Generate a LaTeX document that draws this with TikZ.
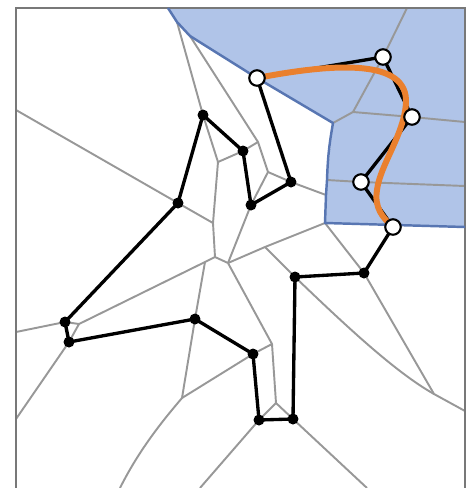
\documentclass[tikz,border=0pt]{standalone}
\usepackage{tikz}
\usetikzlibrary{calc}
\definecolor{cellCol}{RGB}{176,196,232}
\definecolor{rimCol}{RGB}{88,118,178}
\definecolor{edgeCol}{RGB}{152,152,152}
\definecolor{frameCol}{RGB}{120,120,120}
\definecolor{pathCol}{RGB}{234,128,46}
\tikzset{
  vor/.style={draw=edgeCol,line width=1.1pt},
  rim/.style={draw=rimCol,line width=1.4pt,line join=round},
  tour/.style={draw=black,line width=1.9pt,line join=round},
  fitline/.style={draw=pathCol,line width=3.4pt,line cap=round},
  dot/.style={circle,fill=black,inner sep=0pt,minimum size=2.2mm},
  hollow/.style={circle,draw=black,fill=white,line width=1.2pt,inner sep=0pt,minimum size=3.1mm},
}

\begin{document}
\begin{tikzpicture}[x=0.02cm,y=-0.02cm]
  \useasboundingbox (0,0) rectangle (474,488);
  % polygon vertices
  \coordinate (a) at (203,115); \coordinate (b) at (243,151);
  \coordinate (c) at (251,205); \coordinate (d) at (291,182);
  \coordinate (e) at (257,78);  \coordinate (f) at (383,57);
  \coordinate (g) at (412,117); \coordinate (h) at (361,182);
  \coordinate (i) at (393,227); \coordinate (j) at (364,273);
  \coordinate (k) at (295,277); \coordinate (l) at (293,419);
  \coordinate (m) at (259,420); \coordinate (n) at (253,354);
  \coordinate (o) at (195,319); \coordinate (p) at (69,342);
  \coordinate (q) at (65,322);  \coordinate (r) at (178,203);
  % voronoi vertices
  \coordinate (v1) at (177,22);  \coordinate (v2) at (190,36);
  \coordinate (v3) at (218,162); \coordinate (v4) at (258,142);
  \coordinate (v5) at (268,172); \coordinate (v6) at (213,223);
  \coordinate (v7) at (205,262); \coordinate (v8) at (215,257);
  \coordinate (v9) at (228,263); \coordinate (v10) at (326,195);
  \coordinate (v11) at (333,123); \coordinate (v12) at (353,112);
  \coordinate (v13) at (327,180); \coordinate (v14) at (325,223);
  \coordinate (v15) at (265,247); \coordinate (v16) at (272,344);
  \coordinate (v17) at (276,403); \coordinate (v18) at (182,398);
  \coordinate (v19) at (79,324);  \coordinate (v20) at (434,394);
  % cell
  \fill[cellCol] (168,8) -- (v1) -- (v2) -- (e) -- (v11) -- (v13) -- (v10)
    -- (v14) -- (465,227) -- (465,8) -- cycle;
  % voronoi edges
  \draw[vor] (16,110) -- (r) -- (v6) -- (v8) -- (v9) -- (v16) -- (v17);
  \draw[vor] (v1) -- (a) -- (v3) -- (v6);
  \draw[vor] (v2) -- (v4) -- (v5) -- (c) -- (v9);
  \draw[vor] (v3) -- (b) -- (v4);
  \draw[vor] (v5) -- (d) -- (v10);
  \draw[vor] (v8) -- (v7) -- (v19) -- (q) -- (16,332);
  \draw[vor] (v19) -- (p) -- (16,419);
  \draw[vor] (v7) -- (o) -- (v18) -- (n) -- (v16);
  \draw[vor] (v18) .. controls (165,418) and (140,448) .. (120,488);
  \draw[vor] (v9) -- (v15) -- (v14) -- (j) -- (v20) -- (465,411);
  \draw[vor] (v15) -- (k) .. controls (345,325) and (395,372) .. (v20);
  \draw[vor] (m) -- (v17) -- (l) -- (367,488);
  \draw[vor] (m) -- (200,488);
  \draw[vor] (407,8) -- (f) -- (v12) -- (g) -- (465,122);
  \draw[vor] (v11) -- (v12);
  \draw[vor] (v13) -- (h) -- (465,186);
  % frame
  \draw[frameCol,line width=0.9pt] (16,488) -- (16,8) -- (465,8) -- (465,488);
  \draw[rim] (168,8) -- (v1) -- (v2) -- (e) -- (v11) to[bend right=4] (v13)
    -- (v10) -- (v14) -- (465,227);
  % tour
  \draw[tour] (a) -- (b) -- (c) -- (d) -- (e) -- (f) -- (g) -- (h) -- (i)
    -- (j) -- (k) -- (l) -- (m) -- (n) -- (o) -- (p) -- (q) -- (r) -- cycle;
  \draw[fitline] (e) .. controls (340,62) and (408,60) .. (406,103)
    .. controls (404,135) and (380,165) .. (377,190)
    .. controls (374,208) and (383,218) .. (i);
  % sites
  \foreach \s in {a,b,c,d,j,k,l,m,n,o,p,q,r}
    \node[dot] (s\s) at (\s) {};
  \foreach \s in {e,f,g,h,i}
    \node[hollow] (s\s) at (\s) {};
\end{tikzpicture}
\end{document}
